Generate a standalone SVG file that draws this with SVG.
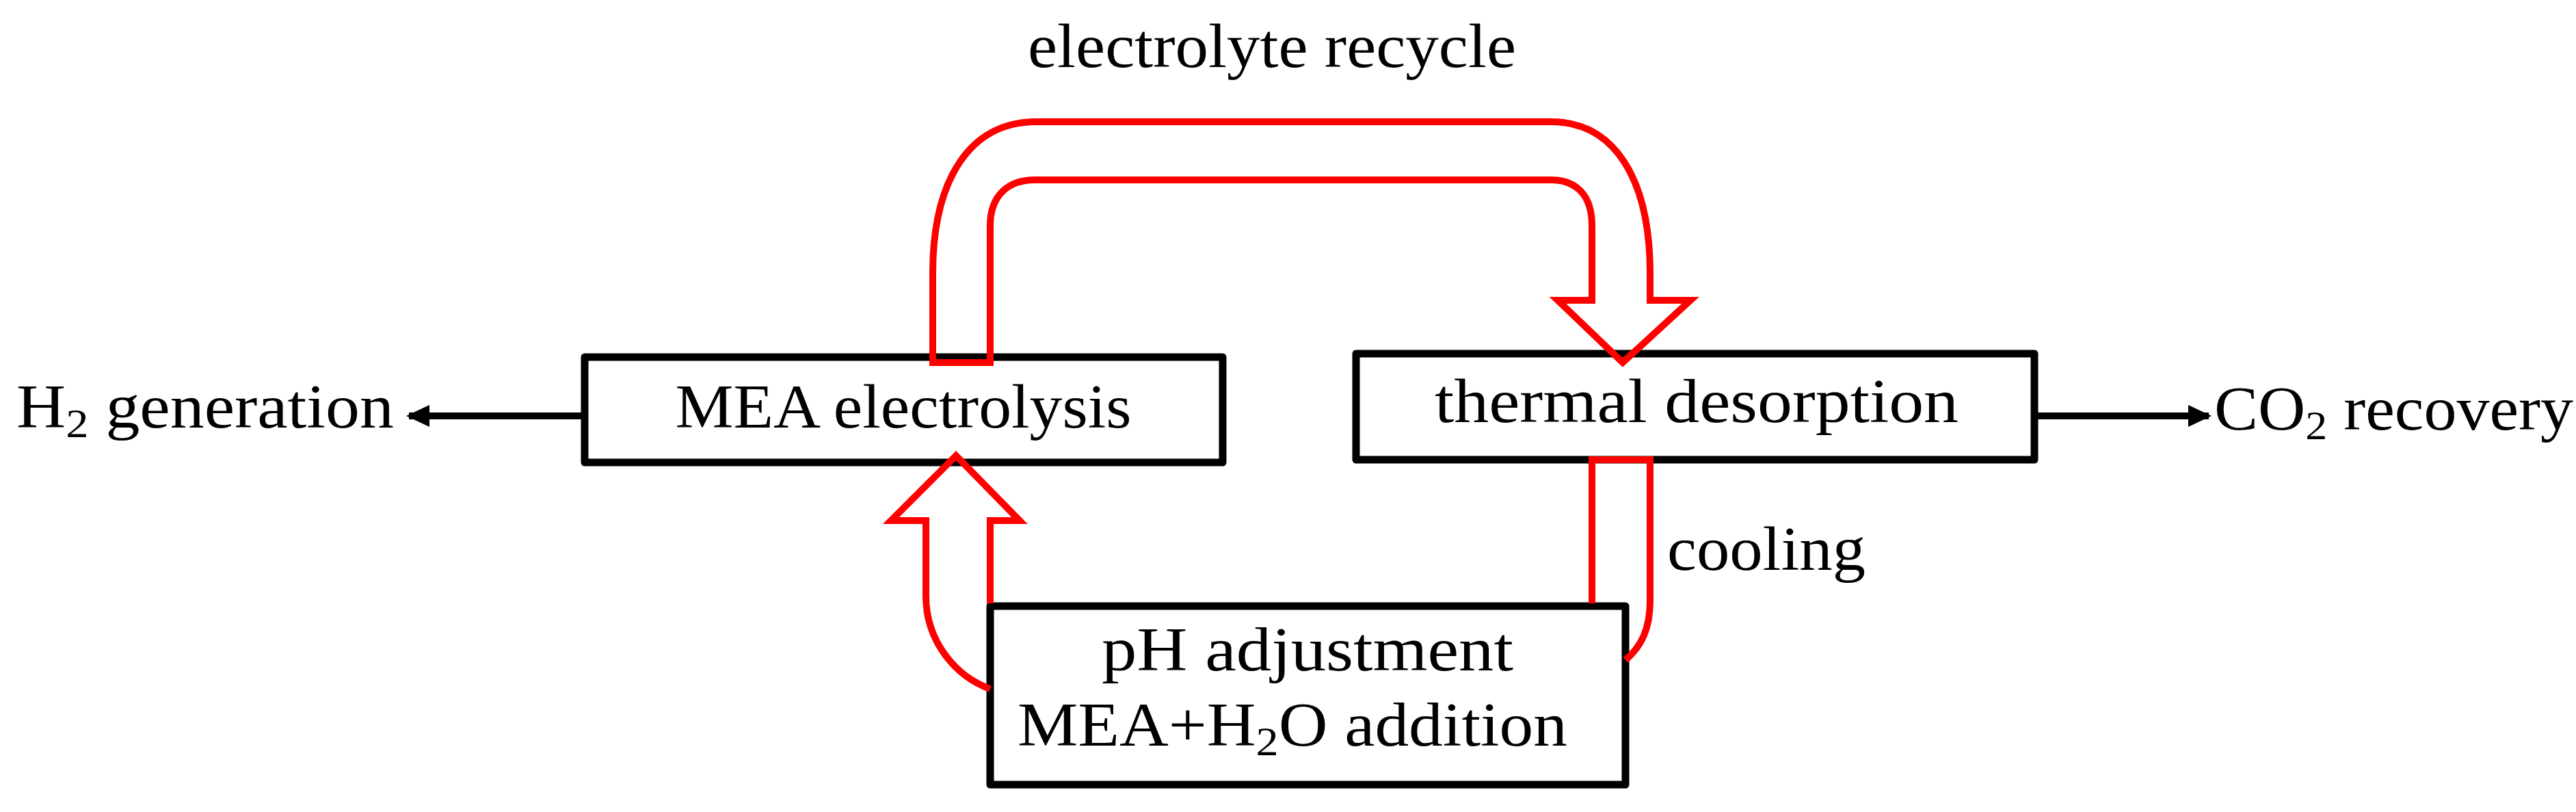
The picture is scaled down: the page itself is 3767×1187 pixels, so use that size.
<svg xmlns="http://www.w3.org/2000/svg" width="3767" height="1187" viewBox="0 0 3767 1187">
<style>
.box{fill:#fff;stroke:#000;stroke-width:11;stroke-linejoin:round}
.red{fill:none;stroke:#f00;stroke-width:10}
.t{font-family:"Liberation Serif",serif;font-size:90px;fill:#000}
.k{stroke:#000;stroke-width:10;fill:none}
</style>
<defs>
<marker id="a" markerWidth="40" markerHeight="40" refX="30" refY="20" orient="auto" markerUnits="userSpaceOnUse"><path d="M0,4 L34,20 L0,36 Z" fill="#000"/></marker>
</defs>
<g id="mea"><rect class="box" x="855" y="522" width="933" height="154"/>
<text class="t" x="1321" y="625" text-anchor="middle" textLength="667" lengthAdjust="spacingAndGlyphs">MEA electrolysis</text></g>
<g id="thermal"><rect class="box" x="1983" y="517" width="992" height="155"/>
<text class="t" x="2481" y="617" text-anchor="middle" textLength="766" lengthAdjust="spacingAndGlyphs">thermal desorption</text></g>
<g id="ph"><rect class="box" x="1448" y="886" width="929" height="261"/>
<text class="t" x="1912" y="980" text-anchor="middle" textLength="602" lengthAdjust="spacingAndGlyphs">pH adjustment</text>
<text class="t" x="1890" y="1090" text-anchor="middle" textLength="804" lengthAdjust="spacingAndGlyphs">MEA+H<tspan font-size="60" dy="14">2</tspan><tspan dy="-14">O addition</tspan></text></g>
<g id="labels">
<text class="t" x="24" y="625" textLength="552" lengthAdjust="spacingAndGlyphs">H<tspan font-size="60" dy="14">2</tspan><tspan dy="-14"> generation</tspan></text>
<text class="t" x="3238" y="628" textLength="525" lengthAdjust="spacingAndGlyphs">CO<tspan font-size="60" dy="14">2</tspan><tspan dy="-14"> recovery</tspan></text>
<text class="t" x="1503" y="98" textLength="714" lengthAdjust="spacingAndGlyphs">electrolyte recycle</text>
<text class="t" x="2438" y="833" textLength="290" lengthAdjust="spacingAndGlyphs">cooling</text>
</g>
<g id="connectors">
<line class="k" x1="855" y1="608" x2="598" y2="608" marker-end="url(#a)"/>
<line class="k" x1="2975" y1="608" x2="3230" y2="608" marker-end="url(#a)"/>
<path class="red" d="M1364,530 V400 C1364,260 1420,178 1515,178 H2268 C2360,178 2413,260 2413,400 V439 H2472 L2373,530 L2278,439 H2328 V330 C2328,285 2305,263 2268,263 H1513 C1475,263 1448,285 1448,330 V530 Z"/>
<path class="red" d="M1448,882 V761 H1491 L1398,666 L1303,761 H1354 V871 C1354,940 1400,990 1448,1007"/>
<path class="red" d="M2328,882 V672 H2413 V878 C2413,920 2400,945 2377,965"/>
</g>
</svg>
